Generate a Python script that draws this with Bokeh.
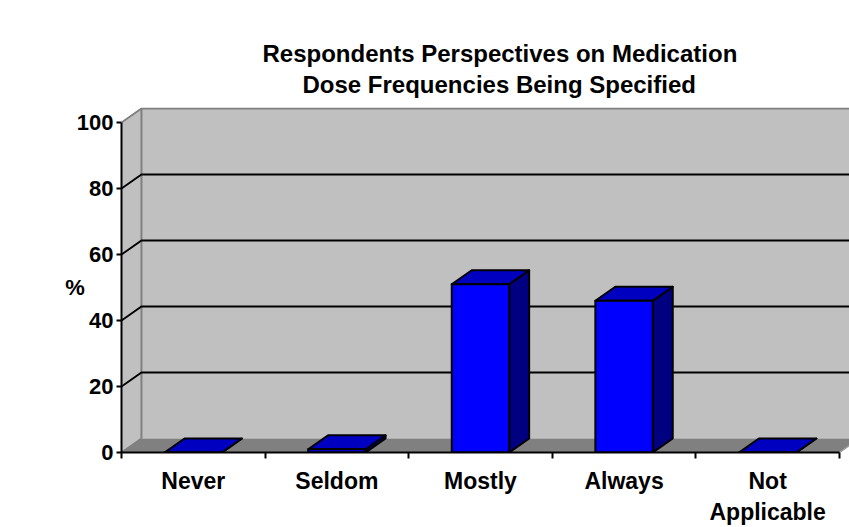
from bokeh.plotting import figure
from bokeh.models import FixedTicker, Range1d, Title
from bokeh.embed import file_html
from bokeh.resources import INLINE

# --- data -------------------------------------------------------------
categories = ["Never", "Seldom", "Mostly", "Always", "Not\nApplicable"]
percent = [0, 1, 51, 46, 0]
y_ticks = [0, 20, 40, 60, 80, 100]
title_lines = ["Respondents Perspectives on Medication",
               "Dose Frequencies Being Specified"]

# --- 3-D look settings (depth offset in data units) --------------------
DX = 0.139          # horizontal depth shift, in category units
DY = 4.24           # vertical depth shift, in percent units
BAR_W = 0.40        # bar width, in category units
X_END = 5.07
Y_END = 104.55
N = len(categories)

FONT = "Liberation Sans"

p = figure(width=849, height=527, output_backend="svg", toolbar_location=None,
           x_range=Range1d(0, X_END), y_range=Range1d(0, Y_END),
           min_border_left=121, min_border_right=0,
           min_border_top=107, min_border_bottom=75)
p.outline_line_color = None
p.xgrid.visible = False
p.ygrid.visible = False
p.background_fill_color = "white"
p.border_fill_color = "white"

# two-line title, each line centred over the chart
p.add_layout(Title(text=title_lines[1], align="left", offset=181, standoff=20,
                   text_font=FONT, text_font_size="24px", text_font_style="bold",
                   text_color="black"), "above")
p.add_layout(Title(text=title_lines[0], align="left", offset=141, standoff=-16,
                   text_font=FONT, text_font_size="24px", text_font_style="bold",
                   text_color="black"), "above")

# back wall
p.patch([DX, X_END + 1, X_END + 1, DX], [DY, DY, 100 + DY, 100 + DY],
        fill_color="#C0C0C0", line_color=None)
# left side wall
p.patch([0, DX, DX, 0], [0, DY, 100 + DY, 100],
        fill_color="#C0C0C0", line_color=None)
# floor
p.patch([0, N, N + DX, DX], [0, 0, DY, DY],
        fill_color="#808080", line_color=None)

# wall edges
p.line([DX, DX], [DY, 100 + DY], line_color="#808080", line_width=2)
p.line([0, DX, X_END + 1], [100, 100 + DY, 100 + DY],
       line_color="#808080", line_width=2)
p.line([0, DX], [0, DY], line_color="#808080", line_width=2)
p.line([N, N + DX], [0, DY], line_color="#A0A0A0", line_width=1.5)

# gridlines across side wall and back wall
for v in y_ticks[1:-1]:
    p.line([0, DX, X_END + 1], [v, v + DY, v + DY],
           line_color="black", line_width=2)

# bars: side face, top face, front face
for i, v in enumerate(percent):
    c = i + 0.5
    x0, x1 = c - BAR_W / 2, c + BAR_W / 2
    p.patch([x1, x1 + DX, x1 + DX, x1], [0, DY, v + DY, v],
            fill_color="#000080", line_color="black", line_width=2,
            line_join="round")
    p.patch([x0, x1, x1 + DX, x0 + DX], [v, v, v + DY, v + DY],
            fill_color="#0000C0", line_color="black", line_width=2,
            line_join="round")
    p.patch([x0, x1, x1, x0], [0, 0, v, v],
            fill_color="#0000FF", line_color="black", line_width=2,
            line_join="round")

# y axis
ya = p.yaxis[0]
ya.ticker = FixedTicker(ticks=y_ticks)
ya.bounds = (0, 100)
ya.axis_line_width = 2
ya.axis_line_color = "black"
ya.major_tick_line_width = 2
ya.major_tick_in = 0
ya.major_tick_out = 5
ya.minor_tick_line_color = None
ya.major_label_standoff = 3
ya.major_label_text_font = FONT
ya.major_label_text_font_size = "22px"
ya.major_label_text_font_style = "bold"
ya.major_label_text_color = "black"
ya.axis_label = "\n%"
ya.axis_label_orientation = "horizontal"
ya.axis_label_standoff = -11
ya.axis_label_text_line_height = 0.6
ya.axis_label_text_font = FONT
ya.axis_label_text_font_size = "22px"
ya.axis_label_text_font_style = "bold"
ya.axis_label_text_color = "black"

# x axis: labels at category centres, ticks at category boundaries
xa = p.xaxis[0]
xa.ticker = FixedTicker(ticks=[i + 0.5 for i in range(N)],
                        minor_ticks=list(range(N + 1)))
xa.major_label_overrides = {i + 0.5: lab for i, lab in enumerate(categories)}
xa.bounds = (0, N)
xa.axis_line_width = 2
xa.axis_line_color = "black"
xa.major_tick_line_color = None
xa.major_tick_in = 0
xa.major_tick_out = 6
xa.minor_tick_line_color = "black"
xa.minor_tick_line_width = 2
xa.minor_tick_in = 0
xa.minor_tick_out = 6
xa.major_label_standoff = 9
xa.major_label_text_font = FONT
xa.major_label_text_font_size = "23px"
xa.major_label_text_font_style = "bold"
xa.major_label_text_color = "black"
xa.major_label_text_line_height = 1.2

open("out.html", "w").write(file_html(p, INLINE))
